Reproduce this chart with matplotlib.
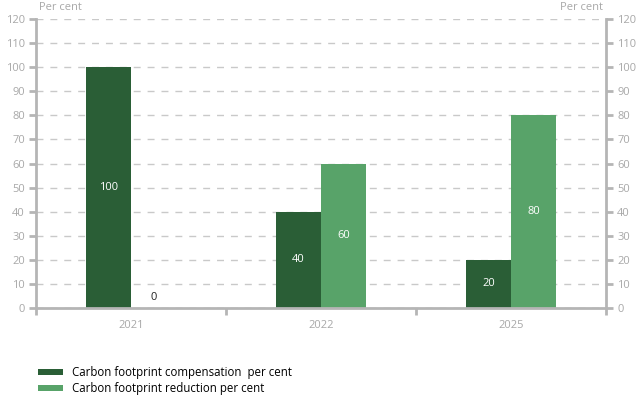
import matplotlib
matplotlib.use("Agg")
import matplotlib.pyplot as plt
import numpy as np

years = ["2021", "2022", "2025"]
compensation = [100, 40, 20]
reduction = [0, 60, 80]
series_names = ["Carbon footprint compensation  per cent",
                "Carbon footprint reduction per cent"]

DARK = "#2a5e36"
LIGHT = "#58a369"
GRID = "#c9c9c9"
AXIS = "#b5b5b5"
TEXT = "#a8a8a8"

plt.rcParams["font.family"] = ["Open Sans", "DejaVu Sans"]

fig = plt.figure(figsize=(6.36, 3.96), dpi=100)
ax = fig.add_axes([36 / 636, 1 - 308 / 396, 570 / 636, 289 / 396])

x = np.arange(len(years))
w = 0.237
b1 = ax.bar(x - w / 2, compensation, w, color=DARK, zorder=2, label=series_names[0])
b2 = ax.bar(x + w / 2, reduction, w, color=LIGHT, zorder=2, label=series_names[1])

for bars, vals in ((b1, compensation), (b2, reduction)):
    for bar, v in zip(bars, vals):
        cx = bar.get_x() + bar.get_width() / 2
        if v > 0:
            ax.text(cx, v / 2, str(v), color="white", ha="center", va="center",
                    fontsize=8, zorder=3)
        else:
            ax.text(cx, 4.5, str(v), color="#222222", ha="center", va="center",
                    fontsize=8, zorder=3)

ax.set_xlim(-0.5, len(years) - 0.5)
ax.set_ylim(0, 120)
ax.set_yticks(range(0, 121, 10))
ax.yaxis.grid(True, color=GRID, linestyle=(0, (5, 5)), linewidth=1, zorder=0)
ax.set_axisbelow(True)

ax.set_xticks(x)
ax.set_xticklabels(years)
ax.set_xticks(np.arange(-0.5, len(years), 1.0), minor=True)
ax.tick_params(axis="x", which="major", length=0, pad=9, labelsize=8, labelcolor=TEXT)
ax.tick_params(axis="x", which="minor", length=5, width=2, color=AXIS)
ax.tick_params(axis="y", which="major", length=5, width=2, color=AXIS, labelsize=8,
               labelcolor=TEXT, pad=3, left=True, right=True, labelleft=True, labelright=True)

ax.spines["top"].set_visible(False)
for side in ("left", "right", "bottom"):
    ax.spines[side].set_color(AXIS)
    ax.spines[side].set_linewidth(2)

ax.text(0.0, 1.02, " Per cent", transform=ax.transAxes, ha="left", va="bottom",
        fontsize=8, color=TEXT)
ax.text(1.0, 1.02, "Per cent ", transform=ax.transAxes, ha="right", va="bottom",
        fontsize=8, color=TEXT)

fig.legend(handles=[b1, b2], loc="upper left", bbox_to_anchor=(38 / 636, 1 - 366 / 396),
           frameon=False, fontsize=8.3, handlelength=2.2, handleheight=0.35,
           labelspacing=0.27, handletextpad=0.75, borderpad=0, borderaxespad=0)

fig.savefig("out.png", dpi=100)
